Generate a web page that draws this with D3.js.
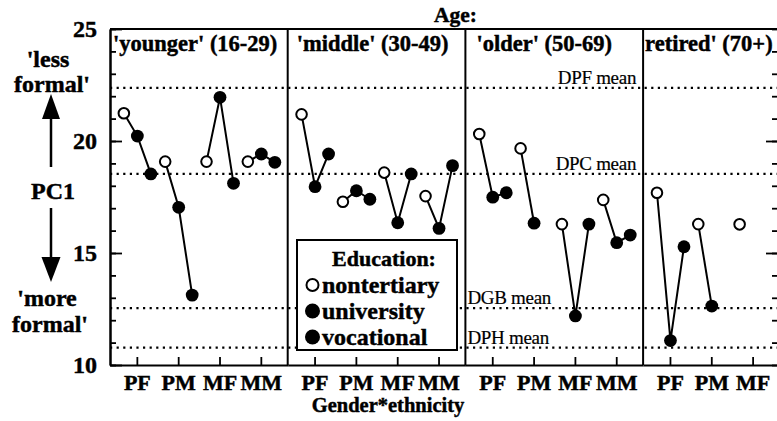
<!DOCTYPE html>
<html>
<head>
<meta charset="utf-8">
<script src="https://cdn.jsdelivr.net/npm/d3@7"></script>
<style>
  html, body { margin: 0; padding: 0; background: #fff; }
  svg { display: block; }
  svg text { font-family: "Liberation Serif", "DejaVu Serif", serif; }
</style>
</head>
<body>
<svg id="chart" width="777" height="421"></svg>
<script>
// ---- data ----
const ageGroups = ["'younger' (16-29)", "'middle' (30-49)", "'older' (50-69)", "retired' (70+)"];
const groupLabels = ["PF", "PM", "MF", "MM"];
const educationLevels = ["nontertiary", "university", "vocational"];

// PC1 score: one row per age group, one column per gender*ethnicity group
const nontertiary = [
  [21.24, 19.08, 19.08, 19.08],
  [21.19, 17.29, 18.59, 17.54],
  [20.31, 19.67, 16.29, 17.37],
  [17.69, 16.29, 16.28, null]
];
const university = [
  [20.22, 17.04, 21.95, 19.42],
  [17.96, 17.78, 16.35, 16.10],
  [17.49, 16.33, 12.19, 15.46],
  [11.09, 12.63, null, null]
];
const vocational = [
  [18.53, 13.12, 18.11, 19.05],
  [19.42, 17.40, 18.53, 18.90],
  [17.69, null, 16.29, 15.80],
  [15.28, null, null, null]
];

const meanLabels = ["DPF mean", "DPC mean", "DGB mean", "DPH mean"];
const meanValues = [22.37, 18.53, 12.54, 10.78];

const yTickLabels = [10, 15, 20, 25];

// ---- layout ----
const W = 777, H = 421;
const plotLeft = 110, plotTop = 29, plotBottom = 365;
const panelW = 177.7;
const titleOffsets = [3, 9, 11, 2];
const meanAnchor = ["end", "end", "start", "start"];
const SERIF = "Liberation Serif";

const svg = d3.select("#chart");

const xPanel = d3.scaleBand().domain(ageGroups).range([plotLeft, plotLeft + panelW * ageGroups.length]);
const xGroup = d3.scalePoint().domain(groupLabels).range([0, panelW]).padding(0.65);
const xEdu = d3.scalePoint().domain(educationLevels).range([-13, 14]);
const y = d3.scaleLinear().domain([10, 25]).range([plotBottom, plotTop]);

const series = [nontertiary, university, vocational];

// serif text helper; bold text gets a hairline outline for a heavier print weight
const label = (sel, size, bold = true) =>
  sel.attr("font-family", SERIF).attr("font-size", size)
     .attr("font-weight", bold ? "bold" : "normal").attr("fill", "#000")
     .attr("stroke", "#000").attr("stroke-width", bold ? 0.45 : 0.2);

// dotted reference means
const meanG = svg.append("g");
meanG.selectAll("line").data(meanValues).join("line")
  .attr("x1", plotLeft).attr("x2", W + 2)
  .attr("y1", d => y(d)).attr("y2", d => y(d))
  .attr("stroke", "#000").attr("stroke-width", 2.2)
  .attr("stroke-dasharray", "2.2 4.4");

const p3 = xPanel(ageGroups[2]);
meanG.selectAll("text").data(meanLabels).join("text")
  .attr("x", (d, i) => meanAnchor[i] === "end" ? p3 + panelW - 7 : p3 + 2)
  .attr("y", (d, i) => y(meanValues[i]) - 4)
  .attr("text-anchor", (d, i) => meanAnchor[i])
  .call(label, 19, false)
  .attr("letter-spacing", -0.3)
  .text(d => d);

// frame: top rule and panel dividers
svg.append("line")
  .attr("x1", plotLeft).attr("x2", W + 2).attr("y1", plotTop).attr("y2", plotTop)
  .attr("stroke", "#000").attr("stroke-width", 2);
svg.append("g").selectAll("line").data(ageGroups.slice(1)).join("line")
  .attr("x1", d => xPanel(d)).attr("x2", d => xPanel(d))
  .attr("y1", plotTop).attr("y2", plotBottom)
  .attr("stroke", "#000").attr("stroke-width", 2);

// axes: minor and major ticks pointing inward
const styleAxis = g => {
  g.attr("font-family", SERIF).attr("font-size", null);
  g.selectAll("path.domain").attr("stroke", "#000").attr("stroke-width", 2);
  g.selectAll(".tick line").attr("stroke", "#000").attr("stroke-width", 1.8);
};
svg.append("g").attr("transform", `translate(${plotLeft},0)`)
  .call(d3.axisLeft(y).tickValues(d3.range(10, 26)).tickSize(-6).tickSizeOuter(0).tickFormat(""))
  .call(styleAxis);
svg.append("g").attr("transform", `translate(${plotLeft},0)`)
  .call(d3.axisLeft(y).tickValues(yTickLabels).tickSize(-12).tickSizeOuter(0).tickPadding(13).tickFormat(d3.format("d")))
  .call(styleAxis)
  .call(g => g.selectAll("text").call(label, 24));

// right axis (mirrored ticks)
svg.append("g").attr("transform", `translate(${W + 2},0)`)
  .call(d3.axisRight(y).tickValues(d3.range(10, 26)).tickSize(-7).tickSizeOuter(0).tickFormat(""))
  .call(styleAxis);
svg.append("g").attr("transform", `translate(${W + 2},0)`)
  .call(d3.axisRight(y).tickValues([15, 20]).tickSize(-13).tickSizeOuter(0).tickFormat(""))
  .call(styleAxis);

// bottom axis per panel
ageGroups.forEach(age => {
  const g = svg.append("g").attr("transform", `translate(${xPanel(age)},${plotBottom})`)
    .call(d3.axisBottom(xGroup).tickSize(-8).tickSizeOuter(0).tickPadding(9))
    .call(styleAxis);
  g.selectAll("text").call(label, 22);
  // drop labels that would be cut by the right edge
  g.selectAll(".tick").each(function (d) {
    const t = d3.select(this).select("text");
    const w = t.node().getComputedTextLength();
    if (xPanel(age) + xGroup(d) + w / 2 > W) t.remove();
  });
});

// panel titles
svg.append("g").selectAll("text").data(ageGroups).join("text")
  .attr("x", (d, i) => xPanel(d) + titleOffsets[i])
  .attr("y", 51)
  .call(label, 22.5)
  .text(d => d);

svg.append("text").attr("x", 434).attr("y", 22).call(label, 21.5).text("Age:");

// connecting lines and points
const line = d3.line().x(d => d.x).y(d => d.y);
const pts = [];
ageGroups.forEach((age, i) => {
  groupLabels.forEach((grp, j) => {
    const cell = [];
    educationLevels.forEach((edu, k) => {
      const v = series[k][i][j];
      if (v != null) cell.push({ x: xPanel(age) + xGroup(grp) + xEdu(edu), y: y(v), edu });
    });
    if (cell.length > 1) {
      svg.append("path").attr("d", line(cell))
        .attr("fill", "none").attr("stroke", "#000").attr("stroke-width", 2);
    }
    pts.push(...cell);
  });
});
svg.append("g").selectAll("circle").data(pts).join("circle")
  .attr("cx", d => d.x).attr("cy", d => d.y)
  .attr("r", d => d.edu === "nontertiary" ? 5.3 : 6.4)
  .attr("fill", d => d.edu === "nontertiary" ? "#fff" : "#000")
  .attr("stroke", "#000").attr("stroke-width", d => d.edu === "nontertiary" ? 2 : 0);

// legend
const lg = svg.append("g");
lg.append("rect").attr("x", 297).attr("y", 240).attr("width", 160).attr("height", 110)
  .attr("fill", "#fff").attr("stroke", "#000").attr("stroke-width", 2);
lg.append("text").attr("x", 384).attr("y", 266).attr("text-anchor", "middle")
  .call(label, 22).text("Education:");
const legY = [293, 319, 345];
educationLevels.forEach((edu, k) => {
  lg.append("circle").attr("cx", 312.5).attr("cy", legY[k] - 8)
    .attr("r", edu === "nontertiary" ? 6 : 7.5)
    .attr("fill", edu === "nontertiary" ? "#fff" : "#000")
    .attr("stroke", "#000").attr("stroke-width", edu === "nontertiary" ? 2 : 0);
  lg.append("text").attr("x", 322).attr("y", legY[k]).call(label, 24).text(edu);
});

// x title
svg.append("text").attr("x", 388).attr("y", 412).attr("text-anchor", "middle")
  .call(label, 20.5).text("Gender*ethnicity");

// y-axis annotation with arrows
const ann = svg.append("g").attr("text-anchor", "middle");
[["'less", 48, 67], ["formal'", 52, 92], ["PC1", 53, 199], ["'more", 47, 306], ["formal'", 50, 332]]
  .forEach(([t, x, yy]) => ann.append("text").attr("x", x).attr("y", yy).call(label, 24).text(t));
const ax = 51;
svg.append("line").attr("x1", ax).attr("x2", ax).attr("y1", 116).attr("y2", 167)
  .attr("stroke", "#000").attr("stroke-width", 2.5);
svg.append("path").attr("d", `M${ax},94 L${ax - 9},119 L${ax + 9},119 Z`).attr("fill", "#000");
svg.append("line").attr("x1", ax).attr("x2", ax).attr("y1", 208).attr("y2", 260)
  .attr("stroke", "#000").attr("stroke-width", 2.5);
svg.append("path").attr("d", `M${ax},282 L${ax - 9.5},257 L${ax + 9.5},257 Z`).attr("fill", "#000");
</script>
</body>
</html>
